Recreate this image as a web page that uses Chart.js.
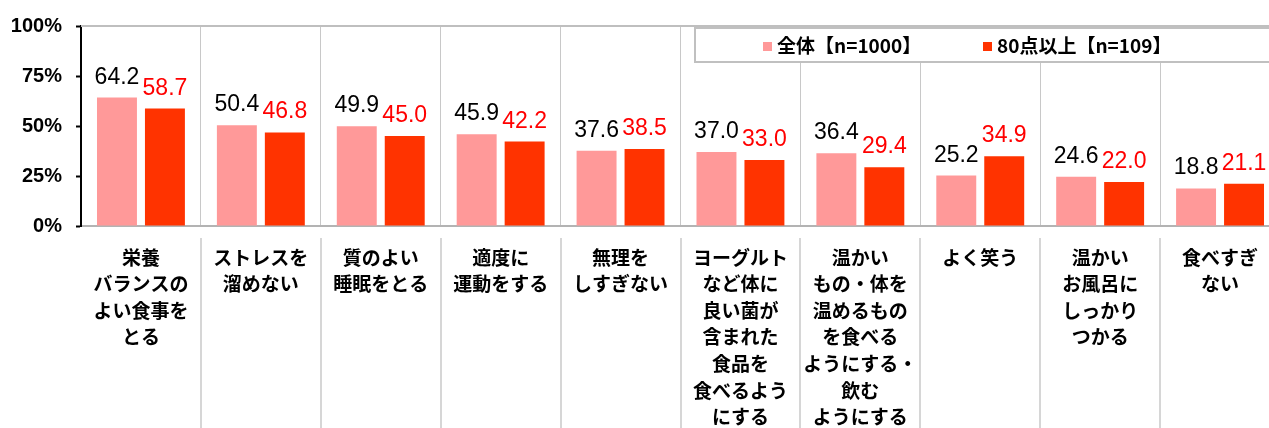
<!DOCTYPE html>
<html>
<head>
<meta charset="utf-8">
<script src="https://cdn.jsdelivr.net/npm/chart.js@4/dist/chart.umd.min.js"></script>
<style>
html,body{margin:0;padding:0;background:#fff;overflow:hidden;}
#wrap{width:1280px;height:428px;position:relative;}
</style>
</head>
<body>
<div id="wrap"><canvas id="c"></canvas></div>
<script>
const categories = [
  ["栄養","バランスの","よい食事を","とる"],
  ["ストレスを","溜めない"],
  ["質のよい","睡眠をとる"],
  ["適度に","運動をする"],
  ["無理を","しすぎない"],
  ["ヨーグルト","など体に","良い菌が","含まれた","食品を","食べるよう","にする"],
  ["温かい","もの・体を","温めるもの","を食べる","ようにする・","飲む","ようにする"],
  ["よく笑う"],
  ["温かい","お風呂に","しっかり","つかる"],
  ["食べすぎ","ない"]
];
const seriesNames = ["全体【n=1000】", "80点以上【n=109】"];
const allValues = [64.2, 50.4, 49.9, 45.9, 37.6, 37.0, 36.4, 25.2, 24.6, 18.8];
const highValues = [58.7, 46.8, 45.0, 42.2, 38.5, 33.0, 29.4, 34.9, 22.0, 21.1];
const yTicks = [0, 25, 50, 75, 100];

const barColors = ["#FF9999", "#FF3300"];
const labelColors = ["#000000", "#FF0000"];
const JP = '"Noto Sans CJK JP", "Noto Sans", sans-serif';
const NUM = '"Liberation Sans", Arial, sans-serif';

const valueLabels = {
  id: 'valueLabels',
  afterDatasetsDraw(chart) {
    const ctx = chart.ctx;
    ctx.save();
    ctx.font = '23px ' + NUM;
    ctx.textAlign = 'center';
    ctx.textBaseline = 'alphabetic';
    chart.data.datasets.forEach((ds, di) => {
      const meta = chart.getDatasetMeta(di);
      ctx.fillStyle = labelColors[di];
      meta.data.forEach((bar, i) => {
        ctx.fillText(ds.data[i].toFixed(1), bar.x, bar.y - 14);
      });
    });
    ctx.restore();
  }
};

const frame = {
  id: 'frame',
  afterDraw(chart) {
    const ctx = chart.ctx;
    const a = chart.chartArea;
    const xs = chart.scales.x;
    const n = chart.data.labels.length;
    ctx.save();
    ctx.strokeStyle = '#bfbfbf';
    ctx.lineWidth = 2;
    ctx.beginPath();
    ctx.moveTo(a.left, a.top);
    ctx.lineTo(a.right, a.top);
    ctx.stroke();
    ctx.strokeStyle = '#d6d6d6';
    ctx.lineWidth = 2;
    const step = (xs.right - xs.left) / n;
    for (let i = 1; i < n; i++) {
      const x = Math.round(xs.left + i * step);
      ctx.beginPath();
      ctx.moveTo(x, a.bottom + 12);
      ctx.lineTo(x, chart.height);
      ctx.stroke();
    }
    const bx = 695, by = 28, bh = 34;
    ctx.fillStyle = '#ffffff';
    ctx.fillRect(bx, by, chart.width - bx + 10, bh);
    ctx.strokeStyle = '#c0c0c0';
    ctx.lineWidth = 2;
    ctx.strokeRect(bx, by, chart.width - bx + 10, bh);
    const itemX = [763, 983];
    ctx.font = 'bold 19px ' + JP;
    ctx.textBaseline = 'middle';
    ctx.textAlign = 'left';
    chart.data.datasets.forEach((ds, di) => {
      ctx.fillStyle = ds.backgroundColor;
      ctx.fillRect(itemX[di], by + 14, 9, 9);
      ctx.fillStyle = '#000';
      ctx.fillText(ds.label, itemX[di] + 14, by + bh / 2 + 1);
    });
    ctx.restore();
  }
};

new Chart(document.getElementById('c'), {
  type: 'bar',
  data: {
    labels: categories,
    datasets: [
      { label: seriesNames[0], data: allValues, backgroundColor: barColors[0], categoryPercentage: 0.8, barPercentage: 0.833 },
      { label: seriesNames[1], data: highValues, backgroundColor: barColors[1], categoryPercentage: 0.8, barPercentage: 0.833 }
    ]
  },
  options: {
    responsive: true,
    maintainAspectRatio: false,
    animation: false,
    layout: { padding: { top: 22, left: 0, right: 0, bottom: 0 } },
    plugins: { legend: { display: false }, tooltip: { enabled: false } },
    scales: {
      x: {
        afterFit(s) { s.height = 202; },
        grid: {
          offset: true,
          color: '#c8c8c8',
          lineWidth: 1,
          borderDash: [2, 2],
          drawTicks: false
        },
        border: { display: true, color: '#b3b3b3', width: 2 },
        ticks: {
          autoSkip: false,
          maxRotation: 0,
          minRotation: 0,
          padding: 18,
          color: '#000',
          font: { family: JP, size: 19, weight: 'bold', lineHeight: 1.4 }
        }
      },
      y: {
        min: 0,
        max: 100,
        afterFit(s) { s.width = 81; },
        afterBuildTicks(s) { s.ticks = yTicks.map(v => ({ value: v })); },
        grid: {
          drawOnChartArea: false,
          drawTicks: true,
          tickLength: 5,
          tickColor: '#000',
          tickWidth: 2
        },
        border: { display: true, color: '#000', width: 2 },
        ticks: {
          padding: 14,
          color: '#000',
          font: { family: NUM, size: 20, weight: 'bold' },
          callback: v => v + '%'
        }
      }
    }
  },
  plugins: [valueLabels, frame]
});
</script>
</body>
</html>
